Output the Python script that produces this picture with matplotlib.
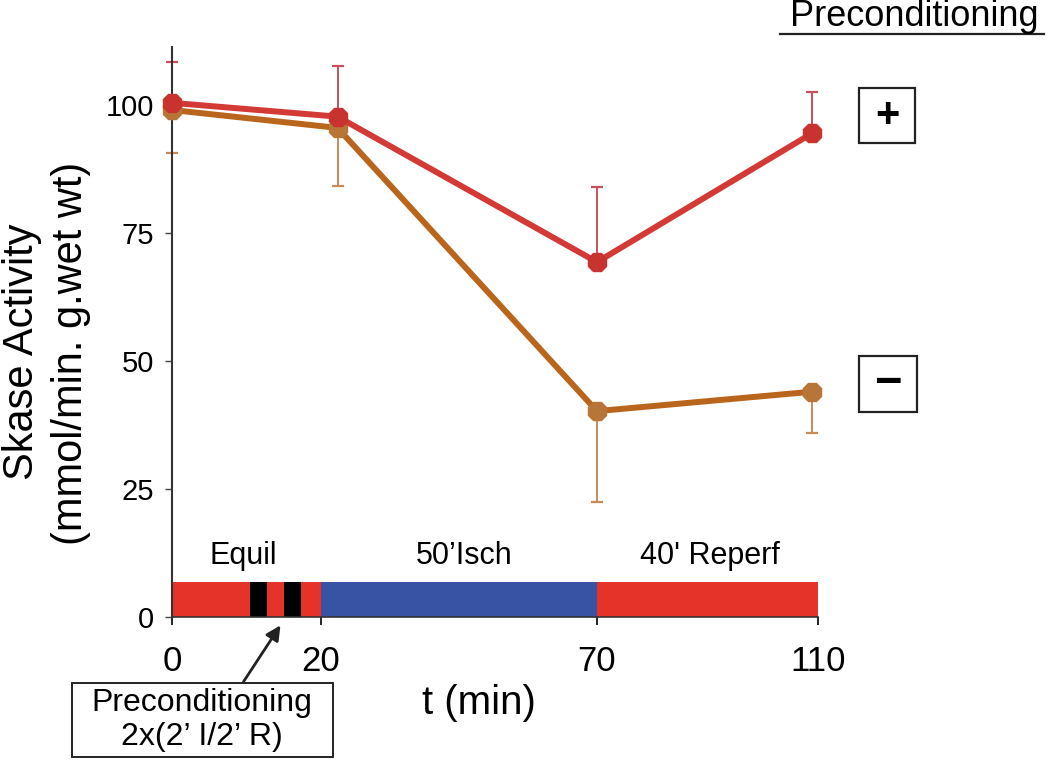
import numpy as np
import matplotlib
matplotlib.use('Agg')
import matplotlib.pyplot as plt
from matplotlib.patches import Rectangle

plt.rcParams['font.family'] = ['Liberation Sans', 'DejaVu Sans']

# data
t_pts = [0, 23, 70, 109]
plus_mean = [100.4, 97.7, 69.3, 94.5]
plus_err = [8.0, 9.9, 14.7, 8.0]      # upper error only
minus_mean = [99.0, 95.5, 40.2, 44.0]
minus_err = [8.4, 11.3, 17.7, 8.0]    # lower error only

# protocol timeline
phase_start = [0, 20, 70]
phase_len = [20, 50, 40]
phase_labels = ['Equil', '50\u2019Isch', "40' Reperf"]
phase_label_x = [9.5, 46, 90.5]
pc_start = [10.5, 15.0]
pc_len = [2.3, 2.3]

x_ticks = [0, 20, 70, 110]
y_ticks = [0, 25, 50, 75, 100]

# the time axis is drawn piecewise (0-20 stretched)
knots_t = np.array([0, 20, 70, 110], float)
knots_u = np.array([0, 149, 425, 646], float)


def fwd(t):
    t = np.asarray(t, float)
    u = np.interp(t, knots_t, knots_u)
    u = np.where(t < 0, t * 149 / 20, u)
    u = np.where(t > 110, 646 + (t - 110) * 221 / 40, u)
    return u


def inv(u):
    u = np.asarray(u, float)
    t = np.interp(u, knots_u, knots_t)
    t = np.where(u < 0, u * 20 / 149, t)
    t = np.where(u > 646, 110 + (u - 646) * 40 / 221, t)
    return t


fig = plt.figure(figsize=(10.5, 7.6), dpi=100)
ax = fig.add_axes([172 / 1050, 143 / 760, 646 / 1050, 570 / 760])
ax.set_xscale('function', functions=(fwd, inv))
ax.set_xlim(0, 110)
ax.set_ylim(0, 111.3)

red_line = '#d33a36'
red_mark = '#c8332f'
org_line = '#b9661c'
org_mark = '#b87538'

# error bars (one sided)
ax.errorbar(t_pts, plus_mean, yerr=[np.zeros(4), plus_err], fmt='none',
            ecolor='#c9505a', elinewidth=1.4, capsize=4.5, capthick=1.6,
            zorder=2, clip_on=False)
ax.errorbar(t_pts, minus_mean, yerr=[minus_err, np.zeros(4)], fmt='none',
            ecolor='#c98a55', elinewidth=1.4, capsize=4.5, capthick=1.6,
            zorder=2, clip_on=False)

ax.plot(t_pts, minus_mean, color=org_line, lw=4.3, marker='8', ms=14.5,
        mfc=org_mark, mec=org_mark, zorder=3, clip_on=False)
ax.plot(t_pts, plus_mean, color=red_line, lw=4.3, marker='8', ms=14.5,
        mfc=red_mark, mec=red_mark, zorder=4, clip_on=False)

# timeline bar
bar_h = 6.8
ax.broken_barh([(phase_start[0], phase_len[0]), (phase_start[2], phase_len[2])],
               (0, bar_h), facecolors='#e5332a', zorder=1)
ax.broken_barh([(phase_start[1], phase_len[1])], (0, bar_h),
               facecolors='#3853a4', zorder=1)
ax.broken_barh(list(zip(pc_start, pc_len)), (0, bar_h), facecolors='black',
               zorder=1)
for lx, lab in zip(phase_label_x, phase_labels):
    ax.text(lx, 12.0, lab, ha='center', va='center', fontsize=22)

# axes styling
for s in ['top', 'right']:
    ax.spines[s].set_visible(False)
ax.spines['left'].set_color('#333333')
ax.spines['left'].set_linewidth(1.5)
ax.spines['bottom'].set_color('#333333')
ax.spines['bottom'].set_linewidth(1.2)
ax.set_xticks(x_ticks)
ax.set_xticklabels([str(v) for v in x_ticks])
ax.set_yticks(y_ticks)
ax.set_yticklabels([str(v) for v in y_ticks])
ax.xaxis.set_minor_locator(matplotlib.ticker.NullLocator())
ax.tick_params(axis='x', direction='out', length=6, width=1.2, pad=14,
               labelsize=25)
ax.tick_params(axis='y', direction='out', length=5, width=1.0, pad=8,
               labelsize=21, color='#444444')

fig.text(479 / 1050, 1 - 703 / 760, 't (min)', ha='center', va='center',
         fontsize=29)
fig.text(22 / 1050, 1 - 352 / 760, 'Skase Activity', rotation=90,
         ha='center', va='center', fontsize=30)
fig.text(71 / 1050, 1 - 353 / 760, '(mmol/min. g.wet wt)', rotation=90,
         ha='center', va='center', fontsize=30)

# title, underlined
fig.text(914 / 1050, 1 - 17 / 760, 'Preconditioning', ha='center',
         va='center', fontsize=26)
fig.add_artist(plt.Line2D([780 / 1050, 1044 / 1050], [1 - 34 / 760, 1 - 34 / 760],
                          color='#222222', lw=1.6))

# +/- boxes
for (x0, y0, w, h), sym, fs in [((859, 88, 56, 55), '+', 30),
                                ((859, 356, 58, 56), '\u2212', 34)]:
    fig.add_artist(Rectangle((x0 / 1050, 1 - (y0 + h) / 760), w / 1050, h / 760,
                             transform=fig.transFigure, fill=False,
                             ec='#222222', lw=1.6))
    fig.text((x0 + w / 2) / 1050, 1 - (y0 + h / 2) / 760, sym, ha='center',
             va='center', fontsize=fs, fontweight='bold')

# preconditioning annotation box + arrow
fig.add_artist(Rectangle((72 / 1050, 1 - 757 / 760), 261 / 1050, 74 / 760,
                         transform=fig.transFigure, fill=False,
                         ec='#222222', lw=1.4))
fig.text(202 / 1050, 1 - 703 / 760, 'Preconditioning', ha='center',
         va='center', fontsize=23)
fig.text(202 / 1050, 1 - 737 / 760, '2x(2\u2019 I/2\u2019 R)', ha='center',
         va='center', fontsize=23)
ax.annotate('', xy=(282 / 1050, 1 - 623 / 760), xycoords='figure fraction',
            xytext=(242 / 1050, 1 - 684 / 760), textcoords='figure fraction',
            arrowprops=dict(arrowstyle='-|>', color='#222222', lw=2,
                            mutation_scale=22))

fig.savefig('out.png', dpi=100)
